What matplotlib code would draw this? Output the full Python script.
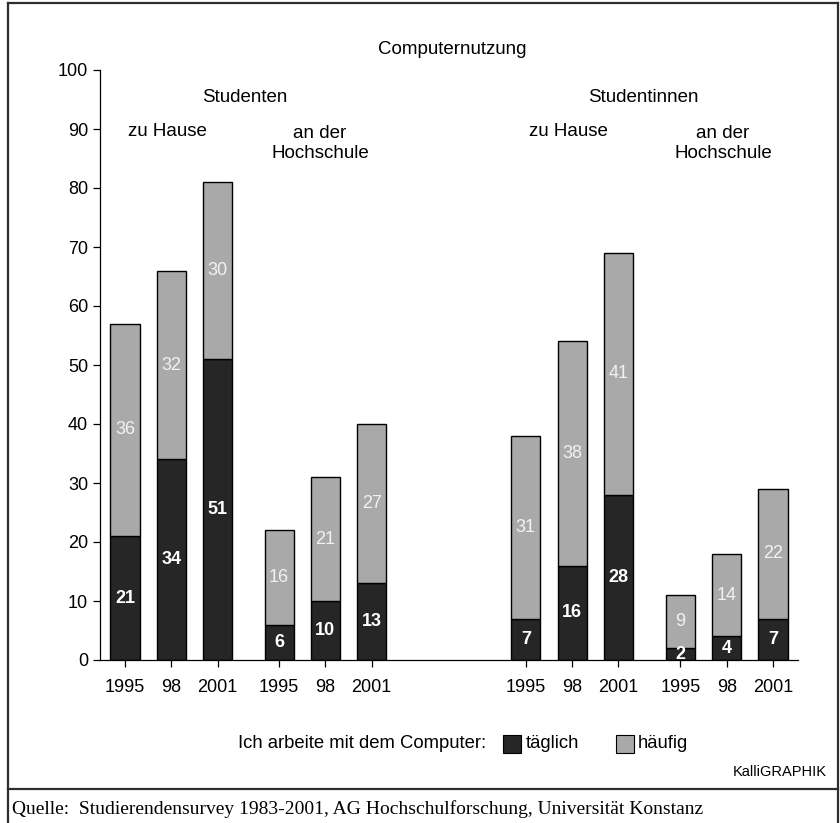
import matplotlib.pyplot as plt
from matplotlib.patches import Rectangle
from matplotlib.lines import Line2D

plt.rcParams["font.family"] = ["Liberation Sans", "DejaVu Sans"]

# Computernutzung, Anteile in Prozent
years = ["1995", "98", "2001"]
groups = ["Studenten zu Hause", "Studenten an der Hochschule",
          "Studentinnen zu Hause", "Studentinnen an der Hochschule"]
taeglich = [21, 34, 51, 6, 10, 13, 7, 16, 28, 2, 4, 7]
haeufig = [36, 32, 30, 16, 21, 27, 31, 38, 41, 9, 14, 22]

DARK = "#262626"
LIGHT = "#a9a9a9"

# bar positions: small gap between places, wide gap between the sexes
group_start = [0, 3.33, 8.66, 12.0]
xpos = [g + i for g in group_start for i in range(len(years))]
width = 0.63

W, H = 840, 823


def fx(px):
    return px / W


def fy(py):
    return 1 - py / H


fig = plt.figure(figsize=(8.4, 8.23), dpi=100)
fig.patch.set_facecolor("white")
ax = fig.add_axes([fx(100), fy(660), 698 / W, 590 / H])

ax.bar(xpos, taeglich, width, color=DARK, edgecolor="black", linewidth=1.0)
ax.bar(xpos, haeufig, width, bottom=taeglich, color=LIGHT, edgecolor="black", linewidth=1.0)

for x, d, h in zip(xpos, taeglich, haeufig):
    ax.text(x, d / 2, str(d), ha="center", va="center", color="white",
            fontsize=13, fontweight="bold")
    ax.text(x, d + h / 2, str(h), ha="center", va="center", color="#f2f2f2",
            fontsize=13)

ax.set_xlim(-0.54, 14.54)
ax.set_ylim(0, 100)
ax.set_yticks(range(0, 101, 10))
ax.set_xticks(xpos)
ax.set_xticklabels(years * 4)
ax.tick_params(axis="both", labelsize=13, direction="out", length=5, width=0.9)
ax.tick_params(axis="x", pad=9)
for s in ["top", "right"]:
    ax.spines[s].set_visible(False)
for s in ["left", "bottom"]:
    ax.spines[s].set_linewidth(0.9)
ax.set_facecolor("none")

# headings
hk = dict(ha="center", va="center", fontsize=13.5)
fig.text(fx(452), fy(50), "Computernutzung", **hk)
fig.text(fx(245), fy(97), "Studenten", **hk)
fig.text(fx(643), fy(97), "Studentinnen", **hk)
fig.text(fx(167), fy(132), "zu Hause", **hk)
fig.text(fx(568), fy(132), "zu Hause", **hk)
fig.text(fx(320), fy(143.5), "an der\nHochschule", linespacing=1.2, **hk)
fig.text(fx(723), fy(143.5), "an der\nHochschule", linespacing=1.2, **hk)

# legend, built by hand like the printed one
fig.text(fx(486), fy(744), "Ich arbeite mit dem Computer:", ha="right",
         va="center", fontsize=13.3)
fig.patches.append(Rectangle((fx(503), fy(753)), 18 / W, 18 / H,
                             transform=fig.transFigure, facecolor=DARK,
                             edgecolor="black", linewidth=0.8))
fig.text(fx(526), fy(744), "täglich", ha="left", va="center", fontsize=13.3)
fig.patches.append(Rectangle((fx(616), fy(753)), 18 / W, 18 / H,
                             transform=fig.transFigure, facecolor=LIGHT,
                             edgecolor="black", linewidth=0.8))
fig.text(fx(638), fy(744), "häufig", ha="left", va="center", fontsize=13.3)

fig.text(fx(827), fy(772), "KalliGRAPHIK", ha="right", va="center", fontsize=10.5)

# frame and source line
frame_kw = dict(transform=fig.transFigure, color="#2e2e2e", linewidth=1.6)
fig.lines.append(Line2D([fx(8), fx(838)], [fy(3), fy(3)], **frame_kw))
fig.lines.append(Line2D([fx(8), fx(8)], [0, fy(3)], **frame_kw))
fig.lines.append(Line2D([fx(838), fx(838)], [0, fy(3)], **frame_kw))
fig.lines.append(Line2D([fx(8), fx(838)], [fy(789), fy(789)], **frame_kw))

fig.text(fx(12), fy(809),
         "Quelle:  Studierendensurvey 1983-2001, AG Hochschulforschung, Universität Konstanz",
         ha="left", va="center", fontsize=14, family=["Liberation Serif", "DejaVu Serif"])

fig.savefig("out.png", dpi=100, facecolor="white")
